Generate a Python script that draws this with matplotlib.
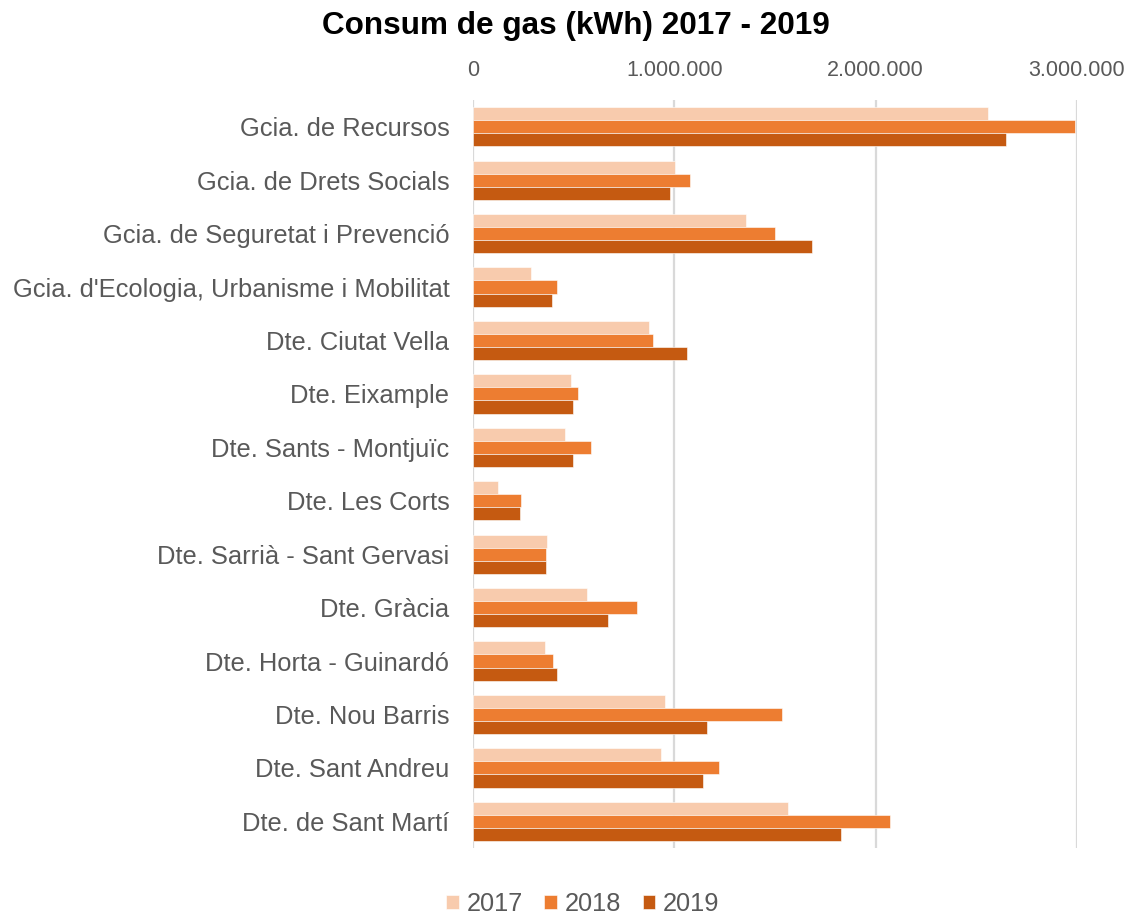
import matplotlib.pyplot as plt
import numpy as np
from matplotlib.ticker import FuncFormatter, MultipleLocator

# categories, top to bottom as in the chart
categories = ["Gcia. de Recursos", "Gcia. de Drets Socials",
              "Gcia. de Seguretat i Prevenció",
              "Gcia. d'Ecologia, Urbanisme i Mobilitat",
              "Dte. Ciutat Vella", "Dte. Eixample", "Dte. Sants - Montjuïc",
              "Dte. Les Corts", "Dte. Sarrià - Sant Gervasi", "Dte. Gràcia",
              "Dte. Horta - Guinardó", "Dte. Nou Barris", "Dte. Sant Andreu",
              "Dte. de Sant Martí"]

# consumption in kWh
gas_2017 = [2560000, 1002000, 1358000, 289000, 872000, 485000, 458000,
            124000, 369000, 568000, 355000, 955000, 935000, 1562000]
gas_2018 = [2988000, 1079000, 1500000, 417000, 892000, 519000, 586000,
            239000, 361000, 813000, 396000, 1533000, 1221000, 2073000]
gas_2019 = [2648000, 976000, 1682000, 393000, 1065000, 499000, 499000,
            231000, 363000, 669000, 418000, 1160000, 1140000, 1828000]

years = ["2017", "2018", "2019"]
colors = ["#F8CBAD", "#ED7D31", "#C55A11"]

plt.rcParams['font.family'] = ['Liberation Sans', 'DejaVu Sans']
grey = "#595959"

fig = plt.figure(figsize=(11.36, 9.15), dpi=100)
ax = fig.add_axes([0.4164, 0.0732, 0.5317, 0.8175])

y = np.arange(len(categories))
h = 0.245
for k, (vals, col, lab) in enumerate(zip([gas_2017, gas_2018, gas_2019], colors, years)):
    ax.barh(y + (k - 1) * h, vals, height=h, color=col, label=lab,
            edgecolor="white", linewidth=0.4, zorder=3)

ax.set_ylim(len(categories) - 0.5, -0.5)
ax.set_xlim(0, 3000000)
ax.xaxis.set_major_locator(MultipleLocator(1000000))
ax.xaxis.set_major_formatter(FuncFormatter(lambda v, p: f"{int(v):,}".replace(",", ".")))
ax.xaxis.tick_top()
ax.grid(axis="x", color="#D9D9D9", linewidth=1.6, zorder=0)
ax.set_axisbelow(True)
for s in ax.spines.values():
    s.set_visible(False)

ax.set_yticks(y)
ax.set_yticklabels(categories, fontsize=18.4, color=grey)
ax.tick_params(axis="y", length=0, pad=17)
ax.tick_params(axis="x", length=0, pad=14, labelsize=15.5, labelcolor=grey)

fig.suptitle("Consum de gas (kWh) 2017 - 2019", x=0.507, y=0.988,
             fontsize=22.7, fontweight="bold", color="black")

fig.legend(loc="lower center", bbox_to_anchor=(0.513, -0.026), ncol=3,
           frameon=False, fontsize=18.3, labelcolor=grey, handlelength=0.5,
           handleheight=0.5, handletextpad=0.3, columnspacing=0.85)

fig.savefig("out.png", dpi=100)
